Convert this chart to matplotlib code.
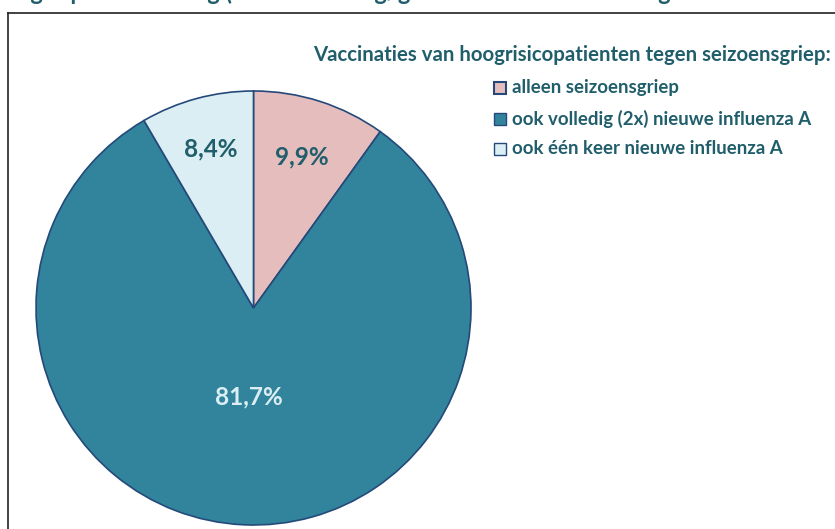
import numpy as np
import matplotlib
matplotlib.use("Agg")
import matplotlib.pyplot as plt
from matplotlib.lines import Line2D
from matplotlib.patches import Rectangle

categories = ["alleen seizoensgriep", "ook volledig (2x) nieuwe influenza A", "ook één keer nieuwe influenza A"]
shares = [9.9, 81.7, 8.4]
legend_title = "Vaccinaties van hoogrisicopatienten tegen seizoensgriep:"
chart_title = ("Seizoensgriep en nameting (huisartsenzorg/geen vaccinatie na meting "
               "in het laatste kwartaal)")

colors = ["#E6BDBD", "#31849B", "#DAEEF3"]
edge = "#24497A"
dark = "#215E6B"
plt.rcParams["font.family"] = ["Lato", "DejaVu Sans"]

W, H = 835, 529
fig = plt.figure(figsize=(W / 100, H / 100), dpi=100)

# frame of the chart area (cut off at right and bottom)
fig.add_artist(Line2D([8 / W, 8 / W], [0, 1 - 13 / H], color="#222222", lw=1.2))
fig.add_artist(Line2D([8 / W, 1], [1 - 13 / H, 1 - 13 / H], color="#222222", lw=1.2))

# title, only its lower edge is in the picture
fig.text(-62 / W, 1 + 0.5 / H, chart_title, fontsize=17, fontweight="bold", color=dark,
         ha="left", va="baseline")

ax = fig.add_axes([36 / W, 1 - 525 / H, 435 / W, 434 / H])
wedges, texts, autotexts = ax.pie(
    shares, colors=colors, startangle=90, counterclock=False,
    autopct=lambda p: f"{p:.1f}".replace(".", ",") + "%",
    wedgeprops=dict(edgecolor=edge, linewidth=1.2))
ax.set_xlim(-1, 1)
ax.set_ylim(-1, 1)
ax.set_aspect("auto")

dists = [0.73, 0.41, 0.76]
txtcol = [dark, "#DAEEF3", dark]
for w, t, d, c in zip(wedges, autotexts, dists, txtcol):
    ang = np.deg2rad((w.theta1 + w.theta2) / 2)
    t.set_position((d * np.cos(ang), d * np.sin(ang)))
    t.set_fontsize(17.5)
    t.set_fontweight("bold")
    t.set_color(c)

fig.text(313 / W, 1 - 55 / H, legend_title, fontsize=14.7, fontweight="bold", color=dark,
         ha="left", va="center")
for i, (cat, col) in enumerate(zip(categories, colors)):
    yc = 88 + 30.5 * i
    fig.add_artist(Rectangle((494 / W, 1 - (yc + 6) / H), 12 / W, 12 / H, facecolor=col,
                             edgecolor=edge, lw=1.5 if i == 0 else 1.0))
    fig.text(512 / W, 1 - yc / H, cat, fontsize=13.4, fontweight="bold", color=dark,
             ha="left", va="center")

fig.savefig("out.png", dpi=100)
